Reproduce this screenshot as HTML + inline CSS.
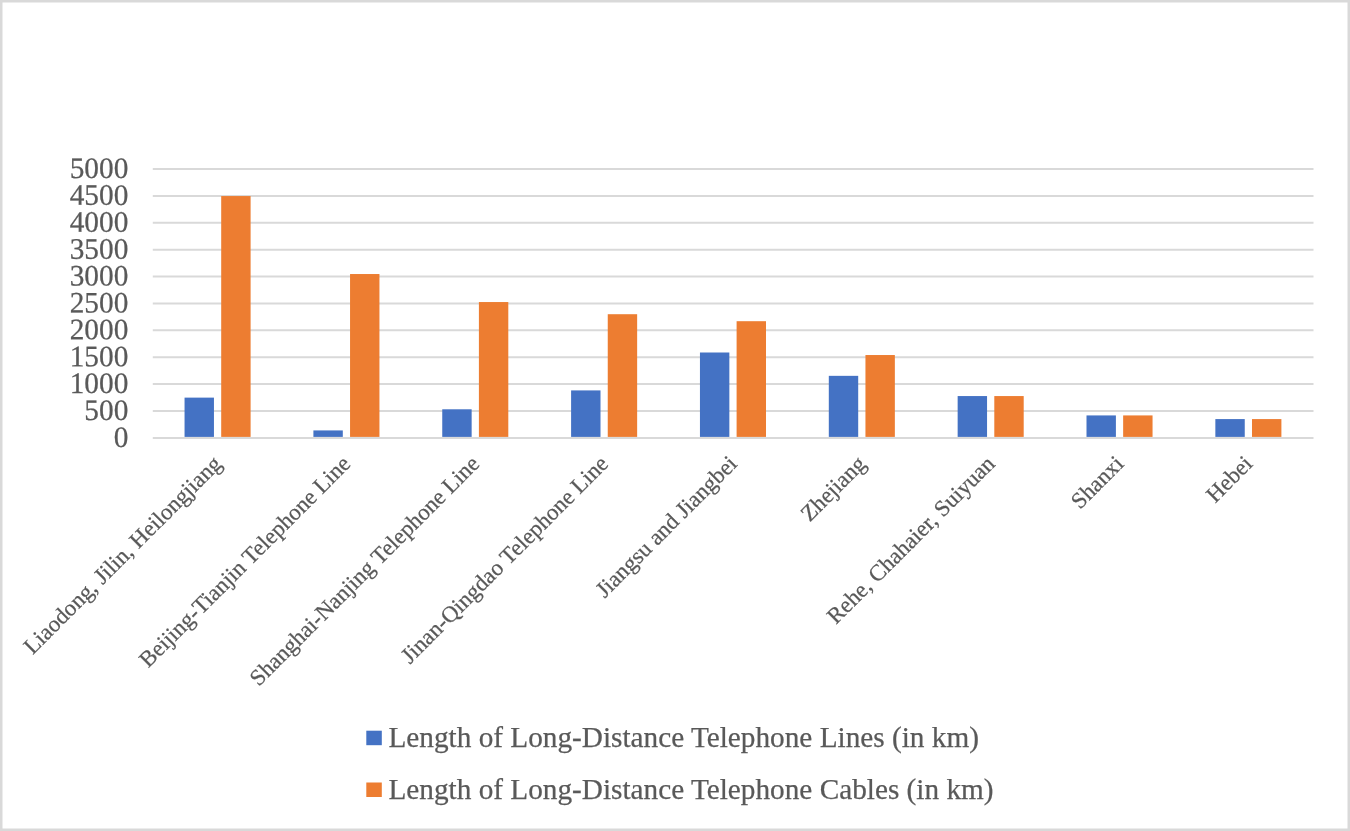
<!DOCTYPE html>
<html><head><meta charset="utf-8"><title>Chart</title>
<style>
html,body{margin:0;padding:0;background:#fff;}
body{width:1350px;height:831px;overflow:hidden;position:relative;}
svg{display:block;position:absolute;left:0;top:0;}
text{font-family:"Liberation Serif","Times New Roman",serif;fill:#595959;stroke:#595959;stroke-width:0.25px;}
</style></head><body>
<svg width="1350" height="831" viewBox="0 0 1350 831">
<rect x="0" y="0" width="1350" height="831" fill="#fff"/>
<rect x="1.25" y="1.25" width="1347.5" height="828.5" fill="none" stroke="#D9D9D9" stroke-width="2.5"/>

<g stroke="#D9D9D9" stroke-width="2">
<line x1="152.80" y1="437.90" x2="1313.50" y2="437.90"/>
<line x1="152.80" y1="411.01" x2="1313.50" y2="411.01"/>
<line x1="152.80" y1="384.12" x2="1313.50" y2="384.12"/>
<line x1="152.80" y1="357.23" x2="1313.50" y2="357.23"/>
<line x1="152.80" y1="330.34" x2="1313.50" y2="330.34"/>
<line x1="152.80" y1="303.45" x2="1313.50" y2="303.45"/>
<line x1="152.80" y1="276.56" x2="1313.50" y2="276.56"/>
<line x1="152.80" y1="249.67" x2="1313.50" y2="249.67"/>
<line x1="152.80" y1="222.78" x2="1313.50" y2="222.78"/>
<line x1="152.80" y1="195.89" x2="1313.50" y2="195.89"/>
<line x1="152.80" y1="169.00" x2="1313.50" y2="169.00"/>
</g>
<g fill="#4472C4">
<rect x="184.55" y="397.62" width="29.40" height="39.28"/>
<rect x="313.40" y="430.42" width="29.40" height="6.48"/>
<rect x="442.25" y="409.29" width="29.40" height="27.61"/>
<rect x="571.10" y="390.41" width="29.40" height="46.49"/>
<rect x="699.95" y="352.50" width="29.40" height="84.40"/>
<rect x="828.80" y="375.84" width="29.40" height="61.06"/>
<rect x="957.65" y="396.06" width="29.40" height="40.84"/>
<rect x="1086.50" y="415.42" width="29.40" height="21.48"/>
<rect x="1215.35" y="419.08" width="29.40" height="17.82"/>
</g><g fill="#ED7D31">
<rect x="221.20" y="196.05" width="29.40" height="240.85"/>
<rect x="350.05" y="274.03" width="29.40" height="162.87"/>
<rect x="478.90" y="302.05" width="29.40" height="134.85"/>
<rect x="607.75" y="314.21" width="29.40" height="122.69"/>
<rect x="736.60" y="321.20" width="29.40" height="115.70"/>
<rect x="865.45" y="355.03" width="29.40" height="81.87"/>
<rect x="994.30" y="396.06" width="29.40" height="40.84"/>
<rect x="1123.15" y="415.42" width="29.40" height="21.48"/>
<rect x="1252.00" y="419.08" width="29.40" height="17.82"/>
</g>
<g font-size="29.33" text-anchor="end">
<text transform="translate(128.3 446.90) rotate(0.03) scale(1 1.015)">0</text>
<text transform="translate(128.3 420.01) rotate(0.03) scale(1 1.015)">500</text>
<text transform="translate(128.3 393.12) rotate(0.03) scale(1 1.015)">1000</text>
<text transform="translate(128.3 366.23) rotate(0.03) scale(1 1.015)">1500</text>
<text transform="translate(128.3 339.34) rotate(0.03) scale(1 1.015)">2000</text>
<text transform="translate(128.3 312.45) rotate(0.03) scale(1 1.015)">2500</text>
<text transform="translate(128.3 285.56) rotate(0.03) scale(1 1.015)">3000</text>
<text transform="translate(128.3 258.67) rotate(0.03) scale(1 1.015)">3500</text>
<text transform="translate(128.3 231.78) rotate(0.03) scale(1 1.015)">4000</text>
<text transform="translate(128.3 204.89) rotate(0.03) scale(1 1.015)">4500</text>
<text transform="translate(128.3 178.00) rotate(0.03) scale(1 1.015)">5000</text>
</g>
<g font-size="22.85" text-anchor="end">
<text transform="translate(222.93 465.10) rotate(-45)" x="0" y="0">Liaodong, Jilin, Heilongjiang</text>
<text transform="translate(351.77 465.10) rotate(-45)" x="0" y="0">Beijing-Tianjin Telephone Line</text>
<text transform="translate(480.62 465.10) rotate(-45)" x="0" y="0">Shanghai-Nanjing Telephone Line</text>
<text transform="translate(609.48 465.10) rotate(-45)" x="0" y="0">Jinan-Qingdao Telephone Line</text>
<text transform="translate(738.33 465.10) rotate(-45)" x="0" y="0">Jiangsu and Jiangbei</text>
<text transform="translate(867.17 465.10) rotate(-45)" x="0" y="0">Zhejiang</text>
<text transform="translate(996.03 465.10) rotate(-45)" x="0" y="0">Rehe, Chahaier, Suiyuan</text>
<text transform="translate(1124.88 465.10) rotate(-45)" x="0" y="0">Shanxi</text>
<text transform="translate(1253.72 465.10) rotate(-45)" x="0" y="0">Hebei</text>
</g>
<rect x="366.3" y="730.7" width="15.5" height="14.5" fill="#4472C4"/>
<rect x="366.3" y="782.5" width="15.5" height="14.5" fill="#ED7D31"/>
<text transform="translate(388.5 747.0) rotate(0.02)" font-size="29.25">Length of Long-Distance Telephone Lines (in km)</text>
<text transform="translate(388.5 798.7) rotate(0.02)" font-size="29.25">Length of Long-Distance Telephone Cables (in km)</text>
</svg></body></html>
